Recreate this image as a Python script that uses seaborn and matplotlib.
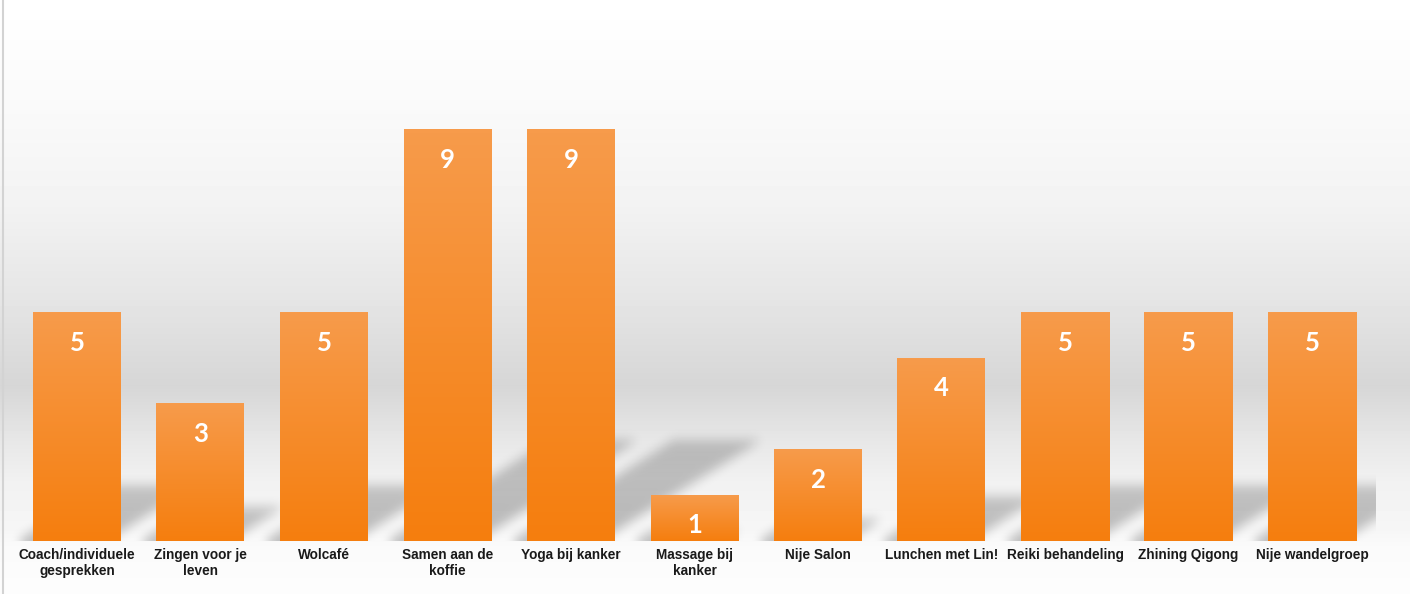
import numpy as np
import pandas as pd
import matplotlib
matplotlib.use("Agg")
import matplotlib.pyplot as plt
import seaborn as sns
from matplotlib.lines import Line2D

# data
activities = ["Coach/individuele\ngesprekken", "Zingen voor je\nleven", "Wolcafé",
              "Samen aan de\nkoffie", "Yoga bij kanker", "Massage bij\nkanker",
              "Nije Salon", "Lunchen met Lin!", "Reiki behandeling",
              "Zhining Qigong", "Nije wandelgroep"]
counts = [5, 3, 5, 9, 9, 1, 2, 4, 5, 5, 5]

df = pd.DataFrame({"activiteit": activities, "aantal": counts})

sns.set_theme(style="white")
plt.rcParams['font.family'] = ['Liberation Sans', 'DejaVu Sans']

W, H = 1410, 594
fig = plt.figure(figsize=(W / 100, H / 100), dpi=100)

# background: soft grey band gradient
bg = fig.add_axes([0, 0, 1, 1], zorder=0)
bg.set_axis_off()
stops_y = [0, 100, 200, 300, 385, 440, 480, 530, 545, 594]
stops_v = [255, 250, 243, 229, 214, 231, 241, 246, 250, 253]
rows = np.interp(np.arange(H), stops_y, stops_v) / 255
bg.imshow(np.repeat(rows[:, None], 2, axis=1), cmap='gray', vmin=0, vmax=1,
          aspect='auto', extent=[0, 1, 0, 1])

# main axes
base_px = 541
unit_px = 45.67
step_px = 123.5
first_px = 77
left_px = 4
plot_right_px = 1376
ax = fig.add_axes([left_px / W, (H - base_px) / H, (W - left_px) / W, base_px / H], zorder=1)
ax.patch.set_alpha(0)

bar_w = 88 / step_px
sns.barplot(data=df, x="activiteit", y="aantal", color="#F68B2E", width=bar_w,
            saturation=1, linewidth=0, edgecolor="none", ax=ax, zorder=3)

xlim = ((left_px - first_px) / step_px, (W - first_px) / step_px)
ylim = (0, base_px / unit_px)

# gradient fill for bars
top_c = np.array([247, 155, 75]) / 255
bot_c = np.array([245, 126, 14]) / 255
grad = np.linspace(0, 1, 100)[:, None, None]
bar_img = top_c * (1 - grad) + bot_c * grad

# soft cast shadows, rendered on a pixel grid of the axes
nx, ny = W - left_px, base_px
gx = xlim[0] + (np.arange(nx) + 0.5) / nx * (xlim[1] - xlim[0])
gy = ylim[0] + (np.arange(ny) + 0.5) / ny * (ylim[1] - ylim[0])
GX, GY = np.meshgrid(gx, gy)
shade = np.zeros((ny, nx))
shift = 15 / step_px
lean = 1.6 * unit_px / step_px

for p in ax.patches:
    x0, w, h = p.get_x(), p.get_width(), p.get_height()
    ax.imshow(bar_img, extent=[x0, x0 + w, 0, h], aspect='auto', zorder=4)

    sh_h = 11.2 * h / unit_px
    off = GY * lean
    inside = (GY <= sh_h) & (GX >= x0 - shift + off) & (GX <= x0 + w - shift + off)
    t = GY / sh_h
    a = np.where(inside, 0.25 - 0.05 * t, 0)
    shade = np.maximum(shade, a)

def box_blur(img, r, axis):
    pad = [(0, 0), (0, 0)]
    pad[axis] = (r + 1, r)
    c = np.cumsum(np.pad(img, pad, mode='edge'), axis=axis)
    n = img.shape[axis]
    if axis == 0:
        return (c[2 * r + 1:2 * r + 1 + n] - c[:n]) / (2 * r + 1)
    return (c[:, 2 * r + 1:2 * r + 1 + n] - c[:, :n]) / (2 * r + 1)

for _ in range(3):
    shade = box_blur(shade, 5, 0)
    shade = box_blur(shade, 4, 1)

shade[:, (gx - xlim[0]) / (xlim[1] - xlim[0]) * nx + left_px > plot_right_px] = 0
sh_rgba = np.zeros((ny, nx, 4))
sh_rgba[..., 3] = shade
ax.imshow(sh_rgba, extent=[xlim[0], xlim[1], ylim[0], ylim[1]], origin='lower',
          aspect='auto', zorder=2)

ax.set_xlim(*xlim)
ax.set_ylim(*ylim)

# value labels
for i, v in enumerate(counts):
    ax.annotate(str(v), (i, v), xytext=(0, -21.6), textcoords='offset points',
                ha='center', va='center', color='white', fontsize=18.5,
                fontweight='bold', family=['Lato', 'DejaVu Sans'], zorder=5)

ax.set_xlabel("")
ax.set_ylabel("")
ax.set_yticks([])
ax.tick_params(axis='x', length=0, pad=5, labelsize=9.8, labelcolor='#1a1a1a')
for lab in ax.get_xticklabels():
    lab.set_fontweight('bold')
    lab.set_linespacing(1.15)
sns.despine(ax=ax, left=True, bottom=True)

fig.add_artist(Line2D([3 / W, 3 / W], [0, 1], color='#d3d3d3', lw=1.5))

fig.savefig("out.png", dpi=100)
